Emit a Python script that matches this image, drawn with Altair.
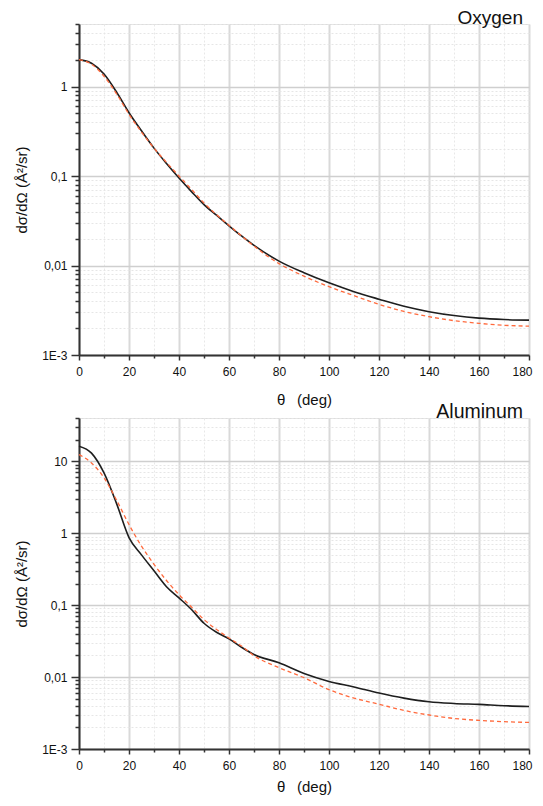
import altair as alt
import pandas as pd

theta = [0, 5, 10, 15, 20, 25, 30, 35, 40, 45, 50, 55, 60, 65, 70,
         80, 90, 100, 110, 120, 130, 140, 150, 160, 170, 180]

oxygen_black = [2.0, 1.82, 1.38, 0.87, 0.51, 0.32, 0.205, 0.138, 0.095, 0.067,
                0.048, 0.0365, 0.0278, 0.0214, 0.0168, 0.0112, 0.0083, 0.0064,
                0.0051, 0.0042, 0.0035, 0.00305, 0.00276, 0.00258, 0.00249, 0.00245]
oxygen_orange = [2.0, 1.78, 1.30, 0.83, 0.49, 0.31, 0.205, 0.142, 0.100, 0.071,
                 0.050, 0.037, 0.0282, 0.0215, 0.0165, 0.0105, 0.0076, 0.0058,
                 0.0046, 0.00368, 0.00307, 0.00268, 0.00242, 0.00226, 0.00215, 0.0021]

aluminum_black = [16.2, 13.0, 6.9, 2.6, 0.87, 0.50, 0.30, 0.18, 0.126, 0.087,
                  0.056, 0.042, 0.034, 0.026, 0.0206, 0.0158, 0.0112, 0.0087,
                  0.0073, 0.0060, 0.0051, 0.00454, 0.0043, 0.00417, 0.0040, 0.0039]
aluminum_orange = [12.4, 9.5, 5.9, 2.9, 1.32, 0.66, 0.37, 0.22, 0.14, 0.094,
                   0.063, 0.046, 0.035, 0.027, 0.0198, 0.0135, 0.0098, 0.0067,
                   0.0051, 0.0042, 0.00344, 0.00297, 0.00266, 0.0025, 0.0024, 0.00234]

panel_names = ["Oxygen", "Aluminum"]
panel_ymax = [5, 40]

y_major_values = [0.001, 0.01, 0.1, 1, 10]
y_major_labels = ["1E-3", "0,01", "0,1", "1", "10"]
x_major_values = [0, 20, 40, 60, 80, 100, 120, 140, 160, 180]
x_minor_values = [10, 30, 50, 70, 90, 110, 130, 150, 170]

FONT = "Liberation Sans"


def y_ticks(ymax):
    vals = []
    for k in range(-3, 2):
        for m in range(1, 10):
            v = round(m * 10 ** k, 6)
            if v <= ymax + 1e-9:
                vals.append(v)
    return vals


y_major_js = "[" + ",".join(str(v) for v in y_major_values) + "]"
y_is_major = f"indexof({y_major_js}, datum.value) >= 0"
y_label_expr = " : ".join(
    f"datum.value == {v} ? '{lab}'" for v, lab in zip(y_major_values, y_major_labels)
) + " : ''"
x_is_major = "datum.value % 20 == 0"
x_is_last = f"datum.value == {max(x_major_values)}"


def y_axis(ymax):
    return alt.Axis(
        values=y_ticks(ymax),
        labelExpr=y_label_expr,
        labelOverlap=False,
        labelFlush=False,
        labelFont=FONT, labelFontSize=12, labelColor="#111", labelPadding=4,
        tickSize={"condition": {"test": y_is_major, "value": 8}, "value": 4},
        tickColor="#333", tickWidth=1.5,
        grid=True,
        gridColor={"condition": {"test": y_is_major, "value": "#cfcfcf"}, "value": "#e6e6e6"},
        gridWidth={"condition": {"test": y_is_major, "value": 1.5}, "value": 1},
        gridDash={"condition": {"test": y_is_major, "value": []}, "value": [2, 2]},
        domainColor="#333", domainWidth=2,
        title="dσ/dΩ  (Å²/sr)",
        titleFont=FONT, titleFontSize=15, titleFontWeight="normal", titleColor="#111",
        titlePadding=12.5,
    )


def x_axis(label_pad, title_pad):
    return alt.Axis(
        values=sorted(x_major_values + x_minor_values),
        labelExpr=f"{x_is_major} ? datum.value : ''",
        labelOverlap=False,
        labelFlush=False,
        labelAlign={"condition": {"test": x_is_last, "value": "right"}, "value": "center"},
        labelOffset={"condition": {"test": x_is_last, "value": 3}, "value": 0},
        labelFont=FONT, labelFontSize=12, labelColor="#111", labelPadding=label_pad,
        tickSize={"condition": {"test": x_is_major, "value": 5}, "value": 3},
        tickColor="#333", tickWidth=1.5,
        grid=True,
        gridColor={"condition": {"test": x_is_major, "value": "#d9d9d9"}, "value": "#e8e8e8"},
        gridWidth={"condition": {"test": x_is_major, "value": 2}, "value": 1},
        gridDash={"condition": {"test": x_is_major, "value": []}, "value": [2, 2]},
        domainColor="#333", domainWidth=2,
        title="θ\u2002 (deg)",
        titleFont=FONT, titleFontSize=15, titleFontWeight="normal", titleColor="#111",
        titlePadding=title_pad,
    )


def panel(idx, black, orange, label_pad, title_pad, fsize):
    ymax = panel_ymax[idx]
    df_b = pd.DataFrame({"theta": theta, "value": black})
    df_o = pd.DataFrame({"theta": theta, "value": orange})
    df_t = pd.DataFrame({"theta": [180], "value": [ymax], "label": [panel_names[idx]]})
    x = alt.X("theta:Q", scale=alt.Scale(domain=[0, 180], nice=False, zero=False),
              axis=x_axis(label_pad, title_pad))
    y = alt.Y("value:Q", scale=alt.Scale(type="log", domain=[0.001, ymax], nice=False), axis=y_axis(ymax))
    line_b = alt.Chart(df_b).mark_line(color="#1e1e1e", strokeWidth=1.6, interpolate="monotone").encode(x=x, y=y)
    line_o = alt.Chart(df_o).mark_line(color="#ff6a3d", strokeWidth=1.3, strokeDash=[4, 3],
                                       interpolate="monotone").encode(x=x, y=y)
    label = alt.Chart(df_t).mark_text(align="right", baseline="alphabetic", dx=-6, dy=0,
                                      font=FONT, fontSize=fsize, color="#111").encode(
        x=x, y=y, text="label:N")
    return alt.layer(line_b, line_o, label).properties(width=450, height=331)


top = panel(0, oxygen_black, oxygen_orange, 6, 15, 19)
bottom = panel(1, aluminum_black, aluminum_orange, 6, 8, 19.5)

chart = alt.vconcat(top, bottom, spacing=-7).configure_view(stroke=None).configure(
    background="white", padding={"left": 5, "top": 0, "right": 0, "bottom": 0})

chart.save("out.html", embed_options={"renderer": "svg", "actions": False})
